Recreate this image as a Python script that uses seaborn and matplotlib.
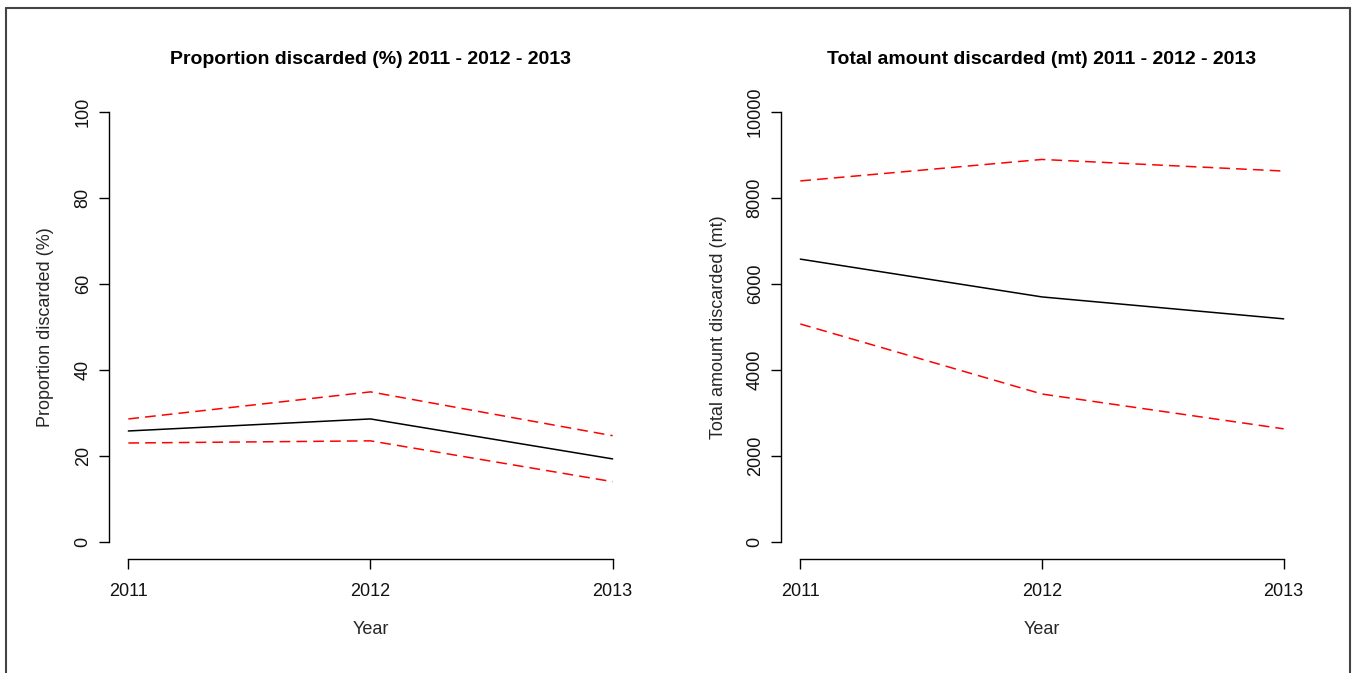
import numpy as np
import pandas as pd
import matplotlib
matplotlib.use("Agg")
import matplotlib.pyplot as plt
import seaborn as sns
from matplotlib.lines import Line2D

# ---- data ----
years = [2011, 2012, 2013]

prop_mean = [25.8, 28.6, 19.3]
prop_upper = [28.6, 34.9, 24.7]
prop_lower = [23.0, 23.5, 14.0]

total_mean = [6580, 5700, 5190]
total_upper = [8400, 8900, 8630]
total_lower = [5070, 3440, 2630]

sns.set_style("white")
plt.rcParams['font.family'] = ['Liberation Sans', 'DejaVu Sans']

fig = plt.figure(figsize=(13.54, 6.73), dpi=100)
W, H = 1354, 673


def r_axes(left, right, top, bottom):
    return fig.add_axes([left / W, 1 - bottom / H, (right - left) / W, (bottom - top) / H])


def draw_panel(ax, mean, upper, lower, ymax, yticks, title, ylabel):
    df = pd.DataFrame({"Year": years, "mean": mean, "upper": upper, "lower": lower})
    sns.lineplot(data=df, x="Year", y="mean", ax=ax, color="black", linewidth=1.1)
    sns.lineplot(data=df, x="Year", y="upper", ax=ax, color="red", linewidth=1.1,
                 linestyle=(0, (7, 4)))
    sns.lineplot(data=df, x="Year", y="lower", ax=ax, color="red", linewidth=1.1,
                 linestyle=(0, (7, 4)))
    # R style: 4% padding, bounded axes, no box
    ax.set_xlim(2011 - 0.08, 2013 + 0.08)
    ax.set_ylim(-0.04 * ymax, ymax * 1.04)
    ax.set_xticks(years)
    ax.set_xticklabels([str(y) for y in years])
    ax.set_yticks(yticks)
    ax.set_yticklabels([str(t) for t in yticks])
    for s in ["top", "right"]:
        ax.spines[s].set_visible(False)
    ax.spines["left"].set_bounds(yticks[0], yticks[-1])
    ax.spines["bottom"].set_bounds(years[0], years[-1])
    for s in ["left", "bottom"]:
        ax.spines[s].set_color("black")
        ax.spines[s].set_linewidth(1.0)
    ax.tick_params(axis="both", which="major", direction="out", length=7, width=1.0,
                   color="black", labelsize=13, labelcolor="#111111",
                   left=True, bottom=True)
    ax.tick_params(axis="x", pad=10.5)
    ax.tick_params(axis="y", labelrotation=90, pad=5.5)
    for lab in ax.get_yticklabels():
        lab.set_verticalalignment("center")
    # title at a fixed spot, like R's main
    ax.text(0.5, (559 - 59) / 464, title, transform=ax.transAxes, ha="center",
            va="center", fontsize=14, fontweight="bold", color="black")
    ax.set_xlabel("Year", fontsize=13, labelpad=15)
    ax.set_ylabel(ylabel, fontsize=13, labelpad=14.5)


ax1 = r_axes(109, 632, 95, 559)
draw_panel(ax1, prop_mean, prop_upper, prop_lower, 100, [0, 20, 40, 60, 80, 100],
           "Proportion discarded (%) 2011 - 2012 - 2013", "Proportion discarded (%)")

ax2 = r_axes(781, 1303, 95, 559)
draw_panel(ax2, total_mean, total_upper, total_lower, 10000,
           [0, 2000, 4000, 6000, 8000, 10000],
           "Total amount discarded (mt) 2011 - 2012 - 2013", "Total amount discarded (mt)")

# outer frame of the screenshot
frame_kw = dict(color="#444444", linewidth=1.5, transform=fig.transFigure)
fig.add_artist(Line2D([6 / W, 6 / W], [0, 1 - 8 / H], **frame_kw))
fig.add_artist(Line2D([6 / W, 1350 / W], [1 - 8 / H, 1 - 8 / H], **frame_kw))
fig.add_artist(Line2D([1350 / W, 1350 / W], [0, 1 - 8 / H], **frame_kw))

fig.savefig("out.png", dpi=100, facecolor="white")
